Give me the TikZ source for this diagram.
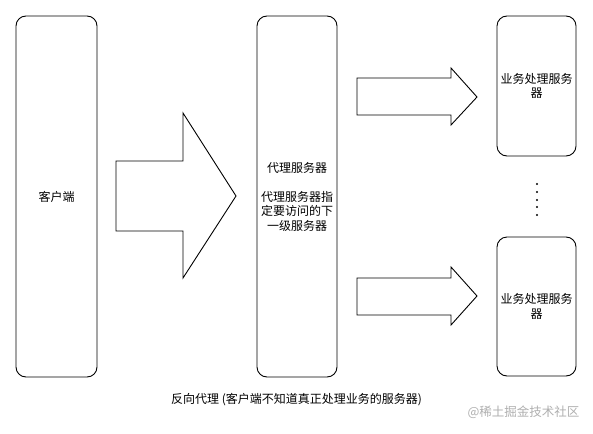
\documentclass[tikz,border=0pt]{standalone}
\usepackage{fontspec}
\setmainfont{Noto Sans CJK SC}
\definecolor{wmgray}{RGB}{175,175,175}
\begin{document}
\begin{tikzpicture}[x=1pt,y=-1pt,
  box/.style={draw=black,line width=0.9pt,rounded corners=10pt,inner sep=0pt,align=center,
    font=\fontsize{12}{14.5}\selectfont},
  blockarrow/.style={draw=black,line width=0.9pt,fill=white},
  label/.style={font=\fontsize{12}{14.5}\selectfont,inner sep=0pt}]
\useasboundingbox (0,0) rectangle (593,433);
\node[box,minimum width=81pt,minimum height=361pt] (client) at (56.5,196.5) {客户端};
\node[box,minimum width=80pt,minimum height=361pt] (proxy) at (297,196.5) {代理服务器\\[14.5pt]代理服务器指\\定要访问的下\\一级服务器};
\node[box,minimum width=79pt,minimum height=140pt] (biz1) at (536.5,86) {业务处理服务\\器};
\node[box,minimum width=79pt,minimum height=139pt] (biz2) at (536.5,306.5) {业务处理服务\\器};
\draw[blockarrow] (116,161) -- (183,161) -- (183,113) -- (236,196) -- (183,278) -- (183,231) -- (116,231) -- cycle;
\draw[blockarrow] (357,78) -- (451,78) -- (451,68) -- (477,97) -- (451,125) -- (451,115) -- (357,115) -- cycle;
\draw[blockarrow] (357,278) -- (451,278) -- (451,267) -- (477,296) -- (451,325) -- (451,315) -- (357,315) -- cycle;
\foreach \yy in {184,192,200,207,215} \fill[black] (537,\yy) circle (1.1pt);
\node[label] (caption) at (296.5,400) {反向代理 (客户端不知道真正处理业务的服务器)};
\node[label,text=wmgray,font=\fontsize{12.5}{14}\selectfont] (wm) at (523.5,412) {@稀土掘金技术社区};
\end{tikzpicture}
\end{document}
